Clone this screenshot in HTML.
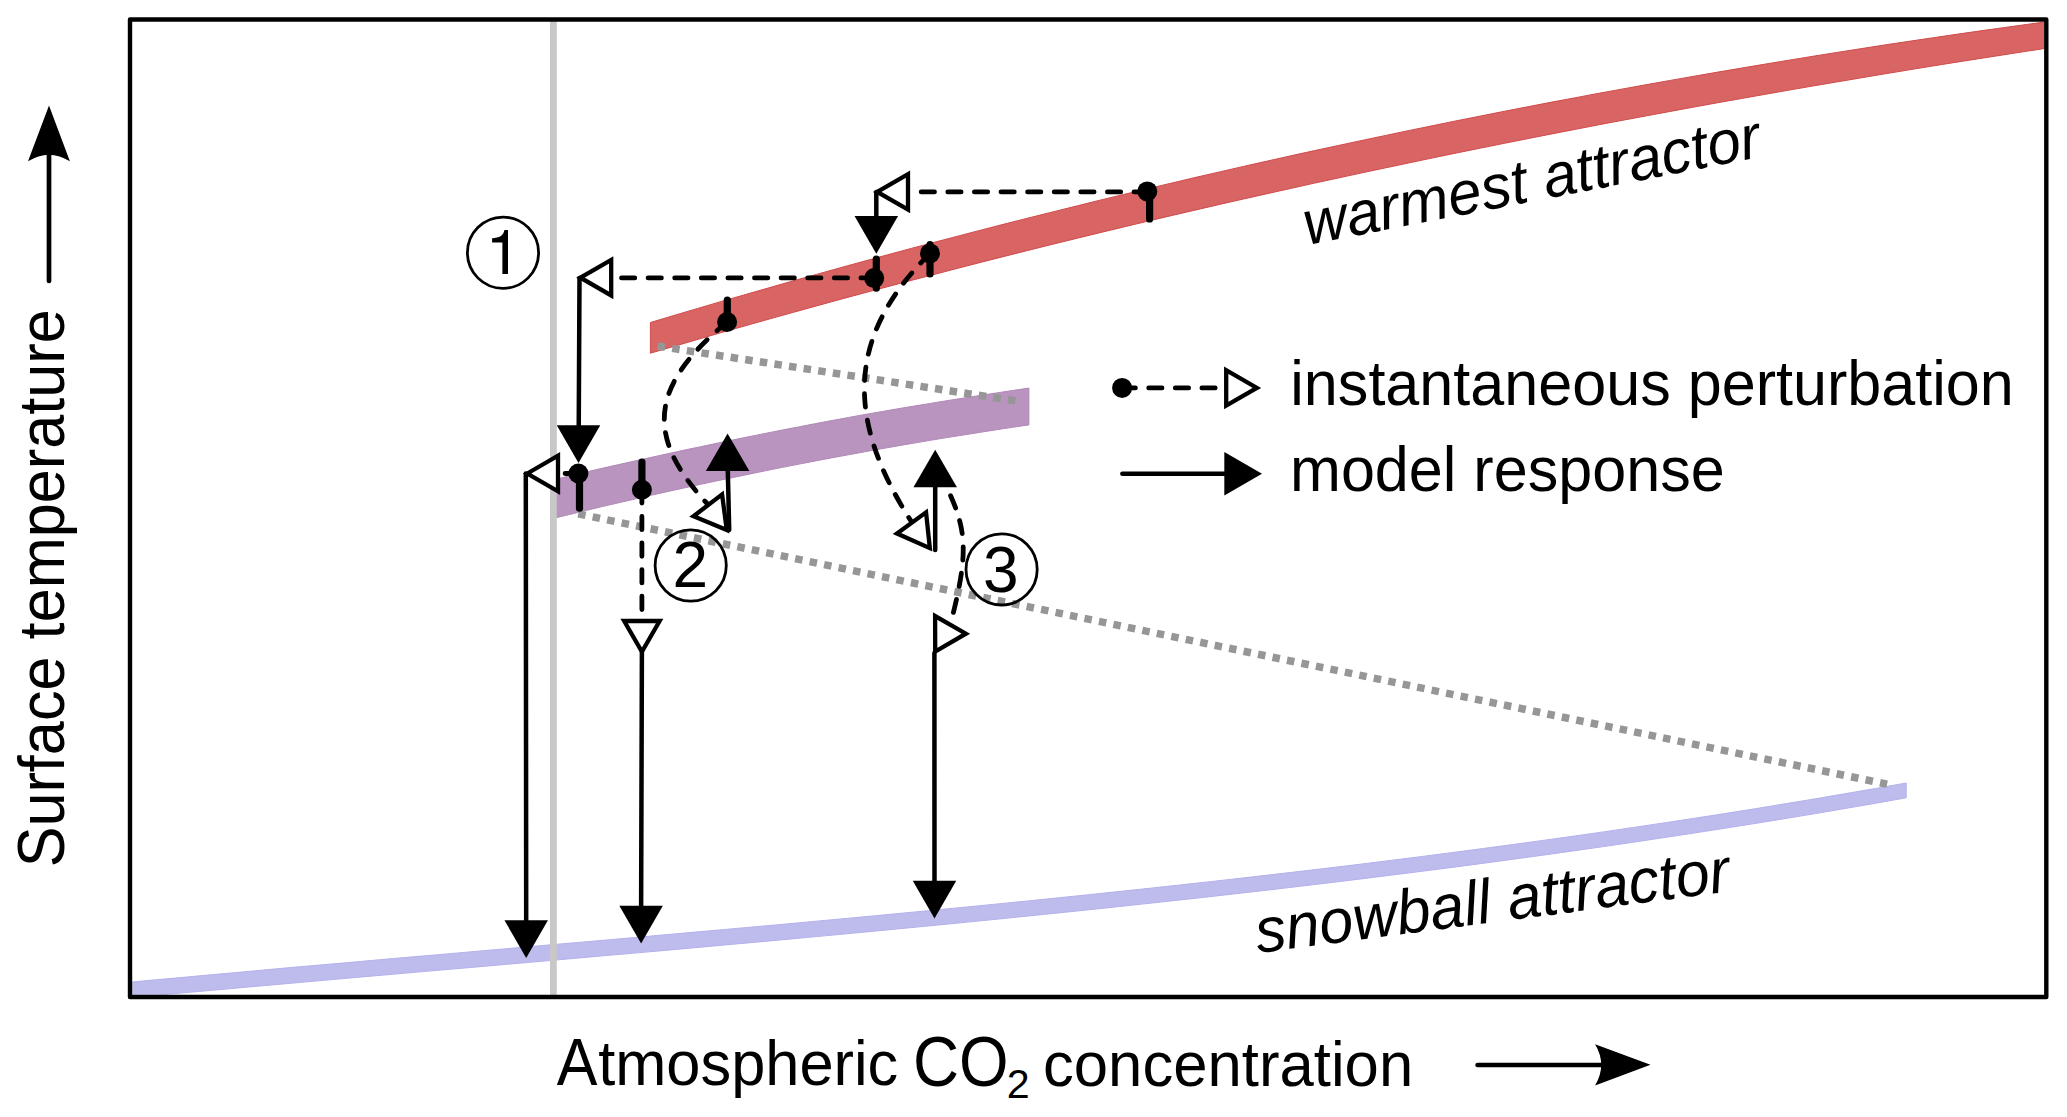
<!DOCTYPE html>
<html><head><meta charset="utf-8"><style>
html,body{margin:0;padding:0;background:#fff;width:2067px;height:1117px;overflow:hidden}
svg{display:block}
.t{font-family:"Liberation Sans",sans-serif;fill:#000}
</style></head><body>
<svg width="2067" height="1117" viewBox="0 0 2067 1117">
<defs><clipPath id="fr"><rect x="132.2" y="21.7" width="1911.9" height="973.1"/></clipPath></defs>
<g clip-path="url(#fr)">
<path d="M650.4,322.5 L674.1,315.4 L697.8,308.4 L721.6,301.4 L745.3,294.6 L769.0,287.8 L792.7,281.0 L816.5,274.4 L840.2,267.8 L863.9,261.3 L887.6,254.8 L911.3,248.4 L935.1,242.1 L958.8,235.9 L982.5,229.7 L1006.2,223.6 L1030.0,217.6 L1053.7,211.7 L1077.4,205.8 L1101.1,199.9 L1124.8,194.2 L1148.6,188.5 L1172.3,182.9 L1196.0,177.3 L1219.7,171.9 L1243.5,166.4 L1267.2,161.1 L1290.9,155.8 L1314.6,150.6 L1338.3,145.5 L1362.1,140.4 L1385.8,135.4 L1409.5,130.4 L1433.2,125.6 L1456.9,120.7 L1480.7,116.0 L1504.4,111.3 L1528.1,106.7 L1551.8,102.1 L1575.6,97.7 L1599.3,93.2 L1623.0,88.9 L1646.7,84.6 L1670.4,80.4 L1694.2,76.2 L1717.9,72.1 L1741.6,68.1 L1765.3,64.1 L1789.1,60.2 L1812.8,56.3 L1836.5,52.5 L1860.2,48.8 L1883.9,45.1 L1907.7,41.5 L1931.4,38.0 L1955.1,34.5 L1978.8,31.1 L2002.6,27.8 L2026.3,24.5 L2050.0,21.3 L2050.0,47.7 L2026.3,51.3 L2002.6,55.0 L1978.8,58.7 L1955.1,62.4 L1931.4,66.2 L1907.7,70.1 L1883.9,74.0 L1860.2,78.0 L1836.5,82.0 L1812.8,86.0 L1789.1,90.1 L1765.3,94.3 L1741.6,98.5 L1717.9,102.7 L1694.2,107.0 L1670.4,111.4 L1646.7,115.8 L1623.0,120.2 L1599.3,124.7 L1575.6,129.3 L1551.8,133.9 L1528.1,138.6 L1504.4,143.3 L1480.7,148.1 L1456.9,152.9 L1433.2,157.8 L1409.5,162.8 L1385.8,167.8 L1362.1,172.8 L1338.3,178.0 L1314.6,183.1 L1290.9,188.4 L1267.2,193.7 L1243.5,199.0 L1219.7,204.4 L1196.0,209.9 L1172.3,215.4 L1148.6,221.0 L1124.8,226.7 L1101.1,232.4 L1077.4,238.2 L1053.7,244.0 L1030.0,249.9 L1006.2,255.9 L982.5,261.9 L958.8,268.0 L935.1,274.2 L911.3,280.4 L887.6,286.7 L863.9,293.0 L840.2,299.4 L816.5,305.9 L792.7,312.5 L769.0,319.1 L745.3,325.8 L721.6,332.5 L697.8,339.4 L674.1,346.3 L650.4,353.2Z" fill="#D86464" stroke="#D14B4B" stroke-width="1"/>
<path d="M120.0,983.1 L150.3,980.3 L180.5,977.6 L210.8,974.8 L241.1,972.1 L271.4,969.3 L301.6,966.6 L331.9,964.0 L362.2,961.3 L392.5,958.6 L422.7,956.0 L453.0,953.4 L483.3,950.7 L513.6,948.1 L543.8,945.4 L574.1,942.8 L604.4,940.2 L634.7,937.5 L664.9,934.8 L695.2,932.1 L725.5,929.4 L755.8,926.7 L786.0,924.0 L816.3,921.2 L846.6,918.4 L876.9,915.6 L907.1,912.7 L937.4,909.8 L967.7,906.9 L998.0,903.9 L1028.2,900.9 L1058.5,897.8 L1088.8,894.7 L1119.1,891.5 L1149.3,888.3 L1179.6,885.0 L1209.9,881.7 L1240.2,878.3 L1270.4,874.8 L1300.7,871.3 L1331.0,867.7 L1361.3,864.1 L1391.5,860.3 L1421.8,856.5 L1452.1,852.6 L1482.4,848.6 L1512.6,844.6 L1542.9,840.4 L1573.2,836.2 L1603.5,831.9 L1633.7,827.4 L1664.0,822.9 L1694.3,818.3 L1724.6,813.6 L1754.8,808.8 L1785.1,803.8 L1815.4,798.8 L1845.7,793.6 L1875.9,788.4 L1906.2,783.0 L1906.2,797.8 L1875.9,803.2 L1845.7,808.4 L1815.4,813.6 L1785.1,818.6 L1754.8,823.5 L1724.6,828.3 L1694.3,833.0 L1664.0,837.6 L1633.7,842.2 L1603.5,846.6 L1573.2,850.9 L1542.9,855.2 L1512.6,859.3 L1482.4,863.4 L1452.1,867.4 L1421.8,871.3 L1391.5,875.1 L1361.3,878.9 L1331.0,882.6 L1300.7,886.2 L1270.4,889.8 L1240.2,893.2 L1209.9,896.7 L1179.6,900.0 L1149.3,903.3 L1119.1,906.6 L1088.8,909.8 L1058.5,912.9 L1028.2,916.0 L998.0,919.1 L967.7,922.1 L937.4,925.1 L907.1,928.0 L876.9,930.9 L846.6,933.8 L816.3,936.6 L786.0,939.4 L755.8,942.2 L725.5,944.9 L695.2,947.7 L664.9,950.4 L634.7,953.1 L604.4,955.7 L574.1,958.4 L543.8,961.1 L513.6,963.7 L483.3,966.4 L453.0,969.0 L422.7,971.6 L392.5,974.3 L362.2,976.9 L331.9,979.6 L301.6,982.3 L271.4,985.0 L241.1,987.7 L210.8,990.4 L180.5,993.1 L150.3,995.9 L120.0,998.6Z" fill="#BDBCED" stroke="#B3B1EC" stroke-width="1"/>
<path d="M553.0,479.9 L569.4,476.0 L585.8,472.1 L602.2,468.3 L618.6,464.6 L635.1,460.9 L651.5,457.3 L667.9,453.7 L684.3,450.1 L700.7,446.7 L717.1,443.2 L733.5,439.8 L749.9,436.5 L766.3,433.2 L782.7,429.9 L799.2,426.8 L815.6,423.6 L832.0,420.5 L848.4,417.5 L864.8,414.5 L881.2,411.7 L897.6,408.8 L914.0,406.1 L930.4,403.4 L946.8,400.7 L963.3,398.1 L979.7,395.5 L996.1,393.0 L1012.5,390.5 L1028.9,388.1 L1028.9,424.9 L1012.5,427.3 L996.1,429.8 L979.7,432.4 L963.3,435.0 L946.8,437.6 L930.4,440.3 L914.0,443.1 L897.6,445.9 L881.2,448.8 L864.8,451.8 L848.4,454.8 L832.0,457.8 L815.6,460.9 L799.2,464.1 L782.7,467.3 L766.3,470.6 L749.9,474.0 L733.5,477.4 L717.1,480.8 L700.7,484.3 L684.3,487.9 L667.9,491.5 L651.5,495.2 L635.1,499.0 L618.6,502.8 L602.2,506.6 L585.8,510.5 L569.4,514.5 L553.0,518.5Z" fill="#B894BE" stroke="#B189B8" stroke-width="1"/>
</g>
<line x1="553.4" y1="21" x2="553.4" y2="995" stroke="#C8C8C8" stroke-width="6.8"/>
<line x1="657.6" y1="346.13401826484017" x2="1015.4" y2="400.86598173515983" stroke="#969696" stroke-width="7.5" stroke-dasharray="7.5 7.27"/>
<line x1="578.2" y1="513.83595" x2="1887.1" y2="784.16405" stroke="#969696" stroke-width="7.5" stroke-dasharray="7.5 7.27"/>
<rect x="130" y="19.5" width="1916.3" height="977.5" fill="none" stroke="#000" stroke-width="4.4" stroke-linejoin="round"/>
<path d="M1147.3,191.9 L908,191.9" fill="none" stroke="#000" stroke-width="4.8" stroke-dasharray="13.3 13.3" stroke-dashoffset="0" stroke-linecap="round"/>
<path d="M877.26,191.90 L908.00,174.15 L908.00,209.65Z" fill="#fff" stroke="#000" stroke-width="4.3" stroke-linejoin="miter"/>
<line x1="876.3" y1="192" x2="876.3" y2="225" stroke="#000" stroke-width="4.5" stroke-linecap="round"/>
<path d="M876.30,253.70 L854.55,216.03 L898.05,216.03Z" fill="#000"/>
<line x1="1149.6" y1="191.4" x2="1149.6" y2="218.9" stroke="#000" stroke-width="7.2" stroke-linecap="round"/>
<circle cx="1147.3" cy="191.4" r="10.0" fill="#000"/>
<path d="M874.2,277.9 L611.2,277.9" fill="none" stroke="#000" stroke-width="4.8" stroke-dasharray="13.3 13.3" stroke-dashoffset="0" stroke-linecap="round"/>
<path d="M580.46,277.70 L611.20,259.95 L611.20,295.45Z" fill="#fff" stroke="#000" stroke-width="4.3" stroke-linejoin="miter"/>
<line x1="579.5" y1="278" x2="578.7" y2="435" stroke="#000" stroke-width="4.5" stroke-linecap="round"/>
<path d="M578.50,463.00 L556.75,425.33 L600.25,425.33Z" fill="#000"/>
<line x1="876.3" y1="259.2" x2="876.3" y2="288.2" stroke="#000" stroke-width="7.2" stroke-linecap="round"/>
<circle cx="874.2" cy="278.1" r="10.0" fill="#000"/>
<path d="M578.4,473.5 L558,473.5" fill="none" stroke="#000" stroke-width="4.8" stroke-dasharray="13.3 13.3" stroke-dashoffset="0" stroke-linecap="round"/>
<path d="M527.26,473.50 L558.00,455.75 L558.00,491.25Z" fill="#fff" stroke="#000" stroke-width="4.3" stroke-linejoin="miter"/>
<line x1="525.8" y1="473.5" x2="526.2" y2="930" stroke="#000" stroke-width="4.5" stroke-linecap="round"/>
<path d="M526.20,957.90 L504.45,920.23 L547.95,920.23Z" fill="#000"/>
<line x1="579.5" y1="473.5" x2="579.5" y2="508.2" stroke="#000" stroke-width="7.2" stroke-linecap="round"/>
<circle cx="578.4" cy="473.5" r="10.0" fill="#000"/>
<line x1="930" y1="244.6" x2="930" y2="274" stroke="#000" stroke-width="7.2" stroke-linecap="round"/>
<circle cx="930" cy="253.4" r="10.0" fill="#000"/>
<path d="M727.1,322 C653.1,383.3 641.8,433.8 707.5,504" fill="none" stroke="#000" stroke-width="4.8" stroke-dasharray="13.3 13.3" stroke-dashoffset="0" stroke-linecap="round"/>
<path d="M726.75,530.06 L693.51,516.24 L722.09,494.36Z" fill="#fff" stroke="#000" stroke-width="4.3" stroke-linejoin="miter"/>
<line x1="727.3" y1="300" x2="727.3" y2="322" stroke="#000" stroke-width="7.2" stroke-linecap="round"/>
<circle cx="727.1" cy="322" r="10.0" fill="#000"/>
<line x1="729.2" y1="530" x2="727.6" y2="462" stroke="#000" stroke-width="4.5" stroke-linecap="round"/>
<path d="M727.60,433.40 L749.35,471.07 L705.85,471.07Z" fill="#000"/>
<path d="M641.9,489.8 L641.9,621" fill="none" stroke="#000" stroke-width="4.8" stroke-dasharray="13.3 13.3" stroke-dashoffset="0" stroke-linecap="round"/>
<path d="M641.90,651.74 L624.15,621.00 L659.65,621.00Z" fill="#fff" stroke="#000" stroke-width="4.3" stroke-linejoin="miter"/>
<line x1="641.9" y1="650" x2="641.1" y2="915" stroke="#000" stroke-width="4.5" stroke-linecap="round"/>
<path d="M641.10,943.40 L619.35,905.73 L662.85,905.73Z" fill="#000"/>
<line x1="641.9" y1="462.1" x2="641.9" y2="489.8" stroke="#000" stroke-width="7.2" stroke-linecap="round"/>
<circle cx="641.9" cy="489.8" r="10.0" fill="#000"/>
<path d="M930,253.4 C846.2,336.2 845.8,419.4 911,521" fill="none" stroke="#000" stroke-width="4.8" stroke-dasharray="13.3 13.3" stroke-dashoffset="0" stroke-linecap="round"/>
<path d="M929.84,548.11 L896.94,533.49 L926.06,512.31Z" fill="#fff" stroke="#000" stroke-width="4.3" stroke-linejoin="miter"/>
<line x1="935.2" y1="550" x2="935.2" y2="478" stroke="#000" stroke-width="4.5" stroke-linecap="round"/>
<path d="M935.20,449.70 L956.95,487.37 L913.45,487.37Z" fill="#000"/>
<path d="M948.5,491 C966.5,530.1 968.8,553.1 951,622" fill="none" stroke="#000" stroke-width="4.8" stroke-dasharray="13.3 13.3" stroke-dashoffset="-5" stroke-linecap="round"/>
<path d="M935.21,651.57 L935.10,616.07 L965.90,633.73Z" fill="#fff" stroke="#000" stroke-width="4.3" stroke-linejoin="miter"/>
<line x1="934.4" y1="653" x2="934.5" y2="890" stroke="#000" stroke-width="4.5" stroke-linecap="round"/>
<path d="M934.50,918.50 L912.75,880.83 L956.25,880.83Z" fill="#000"/>
<circle cx="503" cy="252.7" r="35.6" fill="none" stroke="#000" stroke-width="2.8"/>
<circle cx="690.7" cy="565.5" r="35.6" fill="none" stroke="#000" stroke-width="2.8"/>
<circle cx="1001.6" cy="569.4" r="35.6" fill="none" stroke="#000" stroke-width="2.8"/>
<path d="M508,230 L508,274.1 L502.4,274.1 L502.4,242.5 L492.1,242.5 L492.1,238.2 C499.5,237.8 503.3,236 504.4,230 Z" fill="#000"/>
<text transform="translate(64.4,867.3) rotate(-90) scale(1,1.1)" font-size="61" class="t">S</text>
<text transform="translate(64.4,826.6) rotate(-90) scale(1.004,1.05)" font-size="61" class="t">urface temperature</text>
<text transform="translate(556.8,1085.1) scale(1,1.1)" font-size="61" class="t">A</text>
<text transform="translate(598.2,1085.1) scale(1.006,1.04)" font-size="61" class="t">tmospheric</text>
<text transform="translate(913,1085.6) scale(1.045,1.148)" font-size="61" class="t">CO</text>
<text transform="translate(1043,1085.6) scale(1.011,1.04)" font-size="61" class="t">concentration</text>
<text transform="translate(1290.3,405.2) scale(1,1.037)" font-size="61.1" class="t">instantaneous perturbation</text>
<text transform="translate(1290,491.2) scale(1,1.037)" font-size="61.1" class="t">model response</text>
<text transform="translate(672.6,587)" font-size="64" class="t">2</text>
<text transform="translate(983,591.7)" font-size="64" class="t">3</text>
<text transform="translate(1307.5,245) rotate(-11) scale(1,1.03)" font-size="60.15" class="t" font-style="italic">warmest attractor</text>
<text transform="translate(1258,953) rotate(-7.45) scale(1,1.03)" font-size="61" class="t" font-style="italic">snowball attractor</text>
<text transform="translate(1006.7,1098.1) scale(1.03,1)" font-size="40" class="t">2</text>
<path d="M1122.1,387.9 L1224,387.9" fill="none" stroke="#000" stroke-width="4.8" stroke-dasharray="13.3 13.3" stroke-dashoffset="0" stroke-linecap="round"/>
<path d="M1256.94,387.90 L1226.20,405.65 L1226.20,370.15Z" fill="#fff" stroke="#000" stroke-width="4.3" stroke-linejoin="miter"/>
<circle cx="1122.1" cy="387.9" r="10" fill="#000"/>
<line x1="1122.35" y1="473.8" x2="1235" y2="473.8" stroke="#000" stroke-width="4.5" stroke-linecap="round"/>
<path d="M1262.00,473.80 L1224.33,495.55 L1224.33,452.05Z" fill="#000"/>
<line x1="49" y1="281" x2="49" y2="150" stroke="#000" stroke-width="4.7" stroke-linecap="round"/>
<path d="M49,105.4 L69.9,161.3 Q49,148 28,161.3 Z" fill="#000"/>
<line x1="1477.6" y1="1065" x2="1610" y2="1065" stroke="#000" stroke-width="4.7" stroke-linecap="round"/>
<path d="M1650.5,1064.8 L1595.1,1085.4 Q1607.3,1064.8 1595.1,1044.2 Z" fill="#000"/>
</svg></body></html>
